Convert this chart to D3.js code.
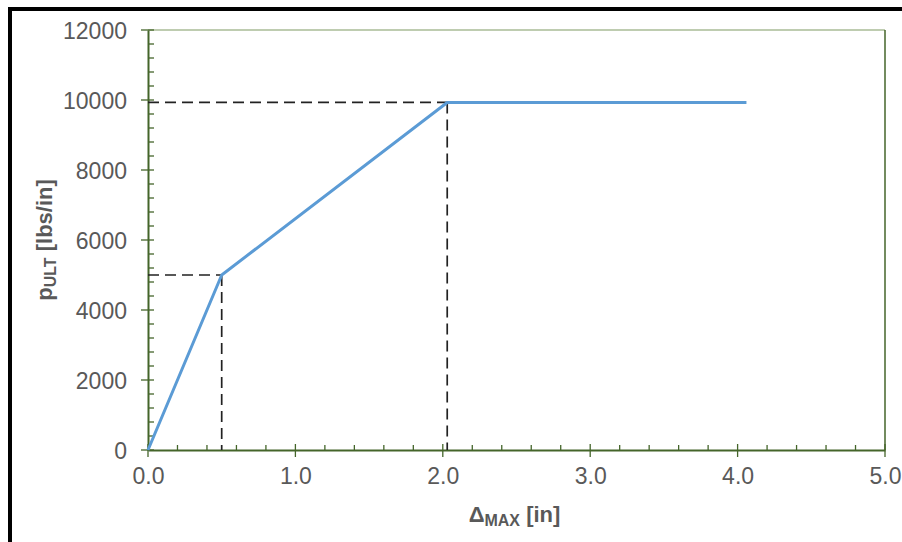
<!DOCTYPE html>
<html>
<head>
<meta charset="utf-8">
<script src="https://cdn.jsdelivr.net/npm/d3@7/dist/d3.min.js"></script>
<style>
  html, body { margin: 0; padding: 0; background: #fff; }
  svg { display: block; }
</style>
</head>
<body>
<svg id="chart" width="902" height="542"></svg>
<script>
// Trilinear resistance curve: displacement (in) vs. ultimate resistance (lbs/in)
const deltaMax = [0, 0.5, 2.03, 4.06];
const pUlt = [0, 5000, 9930, 9930];

// Break points marked with dashed guide lines
const guideX = [0.5, 2.03];
const guideY = [5000, 9930];

const xTicks = [0, 1, 2, 3, 4, 5];
const yTicks = [0, 2000, 4000, 6000, 8000, 10000, 12000];

const W = 902, H = 542;
const m = { left: 148, right: 902 - 885, top: 30, bottom: 542 - 450 };
const svg = d3.select("#chart");

const x = d3.scaleLinear().domain([0, 5]).range([m.left, W - m.right]);
const y = d3.scaleLinear().domain([0, 12000]).range([H - m.bottom, m.top]);

const axisColor = "#44652a";
const textColor = "#595959";
const font = "'Liberation Sans', Arial, sans-serif";

// outer frame
svg.append("rect")
  .attr("x", 10).attr("y", 9)
  .attr("width", W + 20).attr("height", H + 20)
  .attr("fill", "none").attr("stroke", "#000").attr("stroke-width", 4);

// plot border (top and right)
svg.append("line")
  .attr("x1", x(0)).attr("x2", x(5)).attr("y1", y(12000)).attr("y2", y(12000))
  .attr("stroke", "#7f9a63").attr("stroke-width", 1.2);
svg.append("line")
  .attr("x1", x(5)).attr("x2", x(5)).attr("y1", y(12000)).attr("y2", y(0))
  .attr("stroke", axisColor).attr("stroke-width", 1.5);

// minor ticks
const xMinor = d3.range(0, 5.001, 0.2).filter(v => Math.abs(v - Math.round(v)) > 1e-6);
const yMinor = d3.range(0, 12001, 400).filter(v => v % 2000 !== 0);

svg.append("g").selectAll("line").data(xMinor).join("line")
  .attr("x1", d => x(d)).attr("x2", d => x(d))
  .attr("y1", y(0)).attr("y2", y(0) - 5)
  .attr("stroke", axisColor).attr("stroke-width", 1.3);
svg.append("g").selectAll("line").data(yMinor).join("line")
  .attr("x1", x(0)).attr("x2", x(0) + 6)
  .attr("y1", d => y(d)).attr("y2", d => y(d))
  .attr("stroke", axisColor).attr("stroke-width", 1.3);

// major ticks (crossing)
svg.append("g").selectAll("line").data(xTicks).join("line")
  .attr("x1", d => x(d)).attr("x2", d => x(d))
  .attr("y1", y(0) - 6).attr("y2", y(0) + 7)
  .attr("stroke", axisColor).attr("stroke-width", 1.3);
svg.append("g").selectAll("line").data(yTicks).join("line")
  .attr("x1", x(0) - 7).attr("x2", x(0) + 6)
  .attr("y1", d => y(d)).attr("y2", d => y(d))
  .attr("stroke", axisColor).attr("stroke-width", 1.3);

// axis lines and labels
const xAxis = d3.axisBottom(x).tickValues(xTicks).tickSize(0).tickFormat(d3.format(".1f"));
const yAxis = d3.axisLeft(y).tickValues(yTicks).tickSize(0).tickFormat(d3.format("d"));

const gx = svg.append("g").attr("transform", `translate(0,${y(0)})`).call(xAxis);
gx.select(".domain").attr("stroke", axisColor).attr("stroke-width", 2);
gx.selectAll("text").attr("dy", null).attr("y", 34)
  .attr("fill", textColor).style("font-family", font).style("font-size", "23px");

const gy = svg.append("g").attr("transform", `translate(${x(0)},0)`).call(yAxis);
gy.select(".domain").attr("stroke", axisColor).attr("stroke-width", 2);
gy.selectAll("text").attr("x", -21).attr("dy", "0.35em")
  .attr("fill", textColor).style("font-family", font).style("font-size", "23px");

// dashed guides
const guides = svg.append("g").attr("stroke", "#222").attr("stroke-width", 1.7)
  .attr("stroke-dasharray", "11,6").attr("fill", "none");
guideX.forEach((gxv, i) => {
  guides.append("line")
    .attr("x1", x(0)).attr("x2", x(gxv)).attr("y1", y(guideY[i])).attr("y2", y(guideY[i]));
  guides.append("line")
    .attr("x1", x(gxv)).attr("x2", x(gxv)).attr("y1", y(guideY[i])).attr("y2", y(0));
});

// resistance curve
const pts = deltaMax.map((d, i) => [d, pUlt[i]]);
svg.append("path")
  .datum(pts)
  .attr("d", d3.line().x(d => x(d[0])).y(d => y(d[1])))
  .attr("fill", "none").attr("stroke", "#5b9bd5").attr("stroke-width", 3)
  .attr("stroke-linejoin", "round");

// axis titles
const xt = svg.append("text")
  .attr("x", (x(0) + x(5)) / 2 - 2).attr("y", 522)
  .attr("text-anchor", "middle")
  .attr("fill", textColor).style("font-family", font).style("font-weight", "bold")
  .style("font-size", "22px");
xt.append("tspan").text("Δ");
xt.append("tspan").attr("dy", 4).style("font-size", "16px").text("MAX");
xt.append("tspan").attr("dy", -4).text(" [in]");

const yt = svg.append("text")
  .attr("transform", `translate(52,${(y(0) + y(12000)) / 2}) rotate(-90)`)
  .attr("text-anchor", "middle")
  .attr("fill", textColor).style("font-family", font).style("font-weight", "bold")
  .style("font-size", "22px");
yt.append("tspan").text("p");
yt.append("tspan").attr("dy", 4).style("font-size", "16px").text("ULT");
yt.append("tspan").attr("dy", -4).text(" [lbs/in]");
</script>
</body>
</html>
